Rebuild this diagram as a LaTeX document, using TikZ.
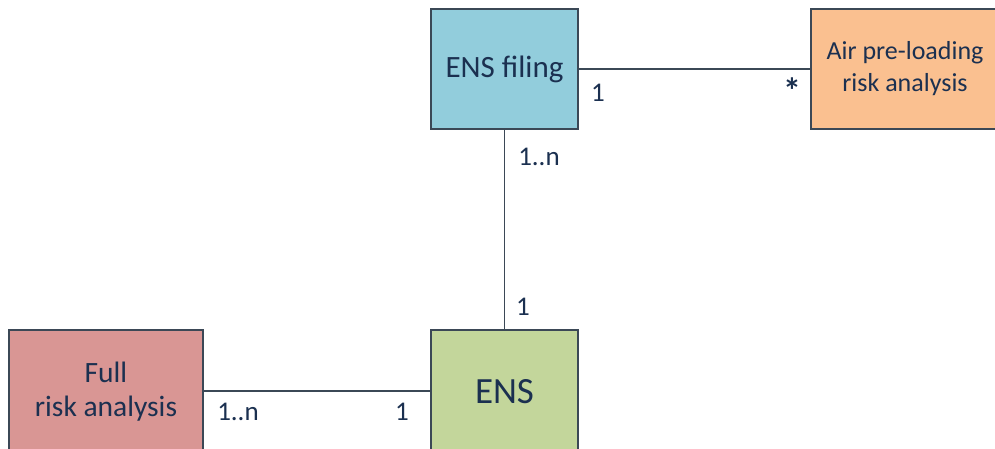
\documentclass[tikz,border=0pt]{standalone}
\usepackage{fontspec}
\setmainfont{Carlito}
\definecolor{txt}{HTML}{1B3050}
\definecolor{edge}{HTML}{3B4856}
\definecolor{cfiling}{HTML}{92CDDC}
\definecolor{cair}{HTML}{FAC090}
\definecolor{cfull}{HTML}{D99694}
\definecolor{cens}{HTML}{C3D69B}
\tikzset{
  box/.style={draw=edge, line width=1.3pt, text=txt, align=center, inner sep=0pt, font=\fontsize{26}{32}\selectfont},
  conn/.style={draw=edge, line width=1.2pt},
  mult/.style={text=txt, inner sep=0pt, font=\fontsize{27}{30}\selectfont}
}
\begin{document}
\begin{tikzpicture}[x=1pt,y=-1pt]
\useasboundingbox[fill=white] (0,0) rectangle (995,449);
\node[box, fill=cfiling, minimum width=147pt, minimum height=120pt, font=\fontsize{31}{36}\selectfont] (filing) at (504.5,69) {ENS filing};
\node[box, fill=cair, minimum width=188pt, minimum height=120pt] (air) at (905,69) {Air pre-loading\\risk analysis};
\node[box, fill=cfull, minimum width=194pt, minimum height=124pt, font=\fontsize{29.5}{34}\selectfont] (full) at (106,392) {Full\\risk analysis};
\node[box, fill=cens, minimum width=147pt, minimum height=124pt, font=\fontsize{37}{42}\selectfont] (ens) at (504.5,392) {ENS};
\draw[conn] (filing.east |- 0,69) -- (air.west |- 0,69);
\draw[conn] (filing.south) -- (ens.north);
\draw[conn] (full.east |- 0,391) -- (ens.west |- 0,391);
\node[mult] (m1) at (598,93) {1};
\node[mult, font=\fontsize{36}{40}\bfseries] (m2) at (792,91) {*};
\node[mult] (m3) at (539,157) {1..n};
\node[mult] (m4) at (523,307) {1};
\node[mult] (m5) at (238,412) {1..n};
\node[mult] (m6) at (402,412) {1};
\end{tikzpicture}
\end{document}
